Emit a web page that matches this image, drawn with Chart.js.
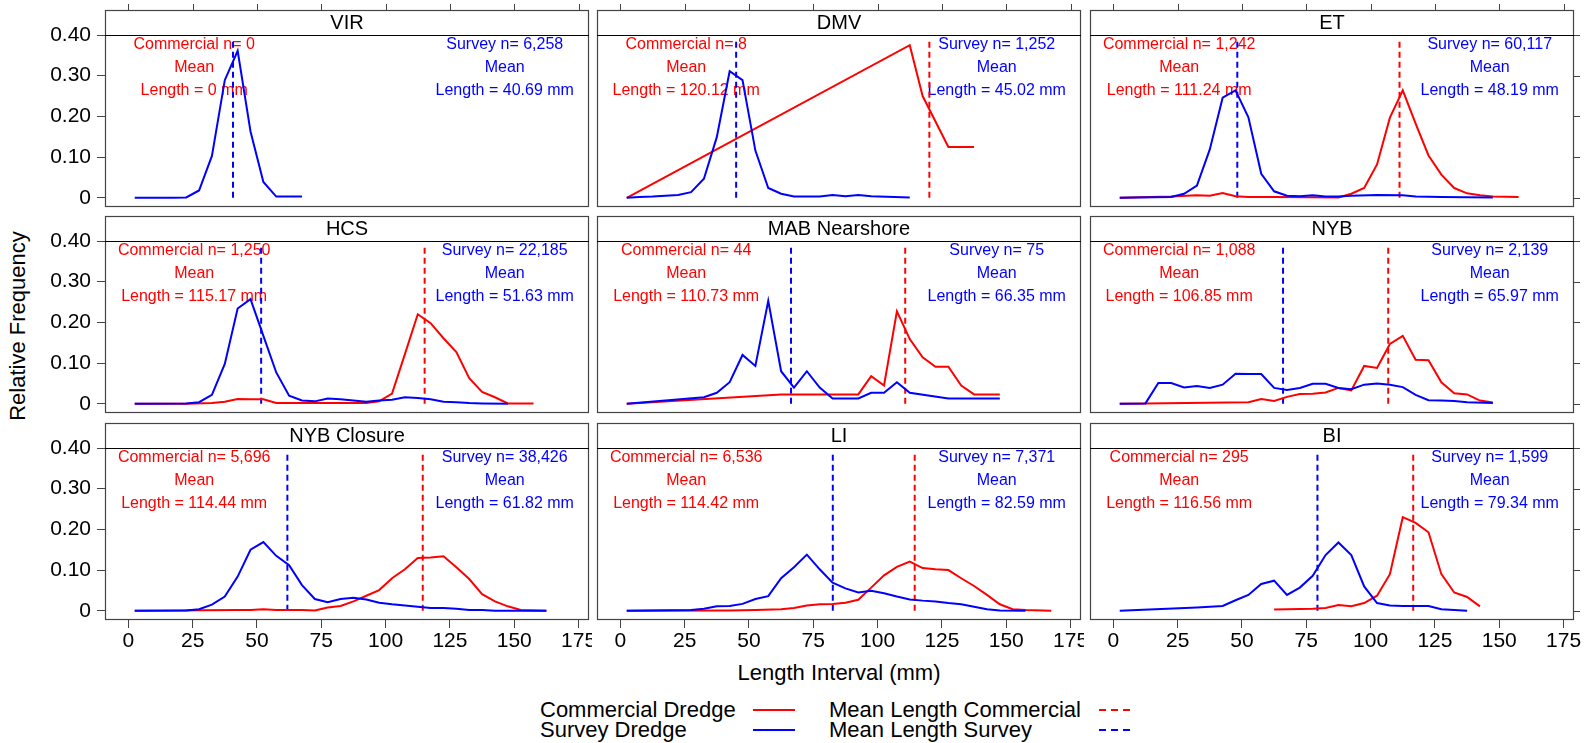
<!DOCTYPE html>
<html lang="en">
<head>
<meta charset="UTF-8" />
<title>Length Frequency by Region</title>
<script src="https://cdn.jsdelivr.net/npm/chart.js"></script>
<style>
  body {
    margin: 0;
    width: 1589px;
    height: 743px;
    position: relative;
    overflow: hidden;
    background: #fff;
    font-family: 'Liberation Sans', Arial, Helvetica, sans-serif;
    color: #000;
  }
  canvas { position: absolute; }
  .ytitle {
    position: absolute;
    left: 18px;
    top: 326px;
    transform: translate(-50%, -50%) rotate(-90deg);
    font-size: 22px;
    white-space: nowrap;
  }
  .xtitle {
    position: absolute;
    left: 839px;
    top: 673px;
    transform: translate(-50%, -50%);
    font-size: 22px;
    white-space: nowrap;
  }
  .leg {
    position: absolute;
    font-size: 22px;
    white-space: nowrap;
    transform: translateY(-50%);
  }
  .legsvg { position: absolute; }
</style>
</head>
<body>

<div class="ytitle">Relative Frequency</div>
<div class="xtitle">Length Interval (mm)</div>

<div class="leg" style="left:540px; top:710px;">Commercial Dredge</div>
<div class="leg" style="left:540px; top:730px;">Survey Dredge</div>
<div class="leg" style="left:829px; top:710px;">Mean Length Commercial</div>
<div class="leg" style="left:829px; top:730px;">Mean Length Survey</div>
<svg class="legsvg" style="left:750px; top:700px;" width="48" height="40">
  <line x1="3" y1="10" x2="45" y2="10" stroke="#ff0000" stroke-width="2"/>
  <line x1="3" y1="30" x2="45" y2="30" stroke="#0000ff" stroke-width="2"/>
</svg>
<svg class="legsvg" style="left:1096px; top:700px;" width="40" height="40">
  <line x1="3" y1="10" x2="34" y2="10" stroke="#ff0000" stroke-width="2" stroke-dasharray="7,5"/>
  <line x1="3" y1="30" x2="34" y2="30" stroke="#0000ff" stroke-width="2" stroke-dasharray="7,5"/>
</svg>

<script>
// panel names, in reading order
const regions = ['VIR', 'DMV', 'ET', 'HCS', 'MAB Nearshore', 'NYB', 'NYB Closure', 'LI', 'BI'];
const commercialN = ['0', '8', '1,242', '1,250', '44', '1,088', '5,696', '6,536', '295'];
const surveyN = ['6,258', '1,252', '60,117', '22,185', '75', '2,139', '38,426', '7,371', '1,599'];
const commercialMean = [0, 120.12, 111.24, 115.17, 110.73, 106.85, 114.44, 114.42, 116.56];
const surveyMean = [40.69, 45.02, 48.19, 51.63, 66.35, 65.97, 61.82, 82.59, 79.34];

const xTicks = [0, 25, 50, 75, 100, 125, 150, 175];
const yTicks = [0, 0.1, 0.2, 0.3, 0.4];
const yTickLabels = ['0', '0.10', '0.20', '0.30', '0.40'];

// relative frequency by length interval midpoint (mm): [length, freq]
const virCommercial = [];
const virSurvey = [[2.5,0],[7.5,0],[12.5,0],[17.5,0],[22.5,0.001],[27.5,0.018],[32.5,0.103],[37.5,0.289],[42.5,0.361],[47.5,0.163],[52.5,0.039],[57.5,0.003],[62.5,0.003],[67.5,0.003]];

const dmvCommercial = [[2.5,0],[112.5,0.375],[117.5,0.25],[127.5,0.125],[137.5,0.125]];
const dmvSurvey = [[2.5,0],[7.5,0.002],[12.5,0.003],[17.5,0.005],[22.5,0.007],[27.5,0.014],[32.5,0.047],[37.5,0.149],[42.5,0.311],[47.5,0.289],[52.5,0.116],[57.5,0.024],[62.5,0.01],[67.5,0.003],[72.5,0.003],[77.5,0.003],[82.5,0.007],[87.5,0.004],[92.5,0.007],[97.5,0.004],[112.5,0.001]];

const etCommercial = [[2.5,0],[22.5,0.003],[32.5,0.006],[37.5,0.005],[42.5,0.012],[47.5,0.004],[52.5,0.002],[62.5,0.002],[87.5,0.001],[92.5,0.01],[97.5,0.024],[102.5,0.082],[107.5,0.197],[112.5,0.264],[117.5,0.182],[122.5,0.104],[127.5,0.057],[132.5,0.024],[137.5,0.011],[142.5,0.006],[147.5,0.003],[157.5,0.002]];
const etSurvey = [[2.5,0],[22.5,0.002],[27.5,0.01],[32.5,0.03],[37.5,0.119],[42.5,0.246],[47.5,0.264],[52.5,0.198],[57.5,0.059],[62.5,0.016],[67.5,0.005],[72.5,0.004],[77.5,0.006],[82.5,0.003],[87.5,0.003],[92.5,0.005],[102.5,0.007],[112.5,0.006],[117.5,0.003],[127.5,0.002],[147.5,0.001]];

const hcsCommercial = [[2.5,0],[22.5,0],[32.5,0.002],[37.5,0.005],[42.5,0.012],[47.5,0.011],[52.5,0.011],[57.5,0.002],[62.5,0.002],[92.5,0.002],[97.5,0.006],[102.5,0.025],[107.5,0.122],[112.5,0.22],[117.5,0.198],[122.5,0.161],[127.5,0.127],[132.5,0.063],[137.5,0.029],[142.5,0.016],[147.5,0.001],[157.5,0.001]];
const hcsSurvey = [[2.5,0],[22.5,0.001],[27.5,0.004],[32.5,0.022],[37.5,0.098],[42.5,0.234],[47.5,0.257],[52.5,0.167],[57.5,0.077],[62.5,0.02],[67.5,0.008],[72.5,0.006],[77.5,0.013],[82.5,0.011],[87.5,0.008],[92.5,0.005],[97.5,0.008],[102.5,0.01],[107.5,0.016],[112.5,0.014],[117.5,0.011],[122.5,0.005],[127.5,0.004],[132.5,0.002],[137.5,0.001],[147.5,0]];

const mabCommercial = [[2.5,0],[62.5,0.023],[92.5,0.023],[97.5,0.068],[102.5,0.045],[107.5,0.227],[112.5,0.159],[117.5,0.114],[122.5,0.091],[127.5,0.091],[132.5,0.045],[137.5,0.023],[147.5,0.023]];
const mabSurvey = [[2.5,0],[32.5,0.016],[37.5,0.027],[42.5,0.053],[47.5,0.12],[52.5,0.093],[57.5,0.253],[62.5,0.08],[67.5,0.04],[72.5,0.08],[77.5,0.04],[82.5,0.013],[92.5,0.013],[97.5,0.027],[102.5,0.027],[107.5,0.053],[112.5,0.027],[127.5,0.013],[147.5,0.013]];

const nybCommercial = [[2.5,0],[12.5,0.001],[52.5,0.004],[57.5,0.012],[62.5,0.007],[67.5,0.017],[72.5,0.024],[77.5,0.025],[82.5,0.028],[87.5,0.039],[92.5,0.033],[97.5,0.093],[102.5,0.088],[107.5,0.147],[112.5,0.167],[117.5,0.108],[122.5,0.107],[127.5,0.053],[132.5,0.026],[137.5,0.023],[142.5,0.008],[147.5,0.003]];
const nybSurvey = [[2.5,0],[12.5,0.001],[17.5,0.051],[22.5,0.051],[27.5,0.04],[32.5,0.044],[37.5,0.039],[42.5,0.047],[47.5,0.074],[52.5,0.073],[57.5,0.073],[62.5,0.039],[67.5,0.034],[72.5,0.039],[77.5,0.049],[82.5,0.049],[87.5,0.039],[92.5,0.036],[97.5,0.047],[102.5,0.05],[107.5,0.047],[112.5,0.041],[117.5,0.022],[122.5,0.009],[127.5,0.008],[132.5,0.007],[137.5,0.004],[147.5,0.002]];

const nybcCommercial = [[2.5,0],[42.5,0.002],[47.5,0.002],[52.5,0.004],[57.5,0.002],[67.5,0.002],[72.5,0.001],[77.5,0.008],[82.5,0.012],[87.5,0.023],[92.5,0.037],[97.5,0.051],[102.5,0.08],[107.5,0.102],[112.5,0.13],[117.5,0.131],[122.5,0.134],[127.5,0.107],[132.5,0.078],[137.5,0.041],[142.5,0.023],[147.5,0.011],[152.5,0.002],[162.5,0]];
const nybcSurvey = [[2.5,0],[22.5,0.001],[27.5,0.004],[32.5,0.015],[37.5,0.035],[42.5,0.084],[47.5,0.15],[52.5,0.169],[57.5,0.135],[62.5,0.112],[67.5,0.063],[72.5,0.029],[77.5,0.021],[82.5,0.029],[87.5,0.032],[92.5,0.028],[97.5,0.02],[102.5,0.016],[107.5,0.013],[112.5,0.01],[117.5,0.007],[122.5,0.007],[127.5,0.005],[132.5,0.002],[137.5,0.002],[142.5,0],[162.5,0]];

const liCommercial = [[2.5,0],[42.5,0.001],[52.5,0.002],[62.5,0.004],[67.5,0.007],[72.5,0.013],[77.5,0.016],[82.5,0.017],[87.5,0.02],[92.5,0.027],[97.5,0.057],[102.5,0.087],[107.5,0.108],[112.5,0.121],[117.5,0.105],[122.5,0.102],[127.5,0.1],[132.5,0.08],[137.5,0.061],[142.5,0.039],[147.5,0.016],[152.5,0.004],[157.5,0.002],[167.5,0]];
const liSurvey = [[2.5,0],[27.5,0.002],[32.5,0.005],[37.5,0.011],[42.5,0.012],[47.5,0.017],[52.5,0.029],[57.5,0.036],[62.5,0.08],[67.5,0.107],[72.5,0.138],[77.5,0.102],[82.5,0.069],[87.5,0.055],[92.5,0.045],[97.5,0.049],[102.5,0.043],[107.5,0.035],[112.5,0.028],[117.5,0.025],[122.5,0.023],[127.5,0.019],[132.5,0.016],[137.5,0.01],[142.5,0.004],[147.5,0.001],[157.5,0]];

const biCommercial = [[62.5,0.003],[77.5,0.005],[82.5,0.007],[87.5,0.014],[92.5,0.011],[97.5,0.019],[102.5,0.037],[107.5,0.09],[112.5,0.23],[117.5,0.216],[122.5,0.193],[127.5,0.09],[132.5,0.045],[137.5,0.034],[142.5,0.011]];
const biSurvey = [[2.5,0],[32.5,0.008],[42.5,0.012],[47.5,0.026],[52.5,0.039],[57.5,0.066],[62.5,0.074],[67.5,0.039],[72.5,0.057],[77.5,0.086],[82.5,0.137],[87.5,0.168],[92.5,0.137],[97.5,0.06],[102.5,0.019],[107.5,0.013],[112.5,0.012],[117.5,0.012],[122.5,0.012],[127.5,0.004],[132.5,0.002],[137.5,0]];

const commercialSeries = [virCommercial, dmvCommercial, etCommercial, hcsCommercial, mabCommercial, nybCommercial, nybcCommercial, liCommercial, biCommercial];
const surveySeries = [virSurvey, dmvSurvey, etSurvey, hcsSurvey, mabSurvey, nybSurvey, nybcSurvey, liSurvey, biSurvey];

// ---- layout (px) ----
const FONT = "'Liberation Sans', Arial, Helvetica, sans-serif";
const colLeft = [105, 597, 1090];
const rowTop = [10, 216, 423];
const panelW = 484;
const stripH = 25;
const plotH = 172;
const RED = '#ff0000';
const BLUE = '#0000ff';
const FRAME = '#444444';

const toXY = pts => pts.map(p => ({ x: p[0], y: p[1] }));

// strip, frame, outer ticks and the text in each panel
const panelDecor = {
  id: 'panelDecor',
  beforeDatasetsDraw(chart, args, opts) {
    const { ctx, scales: { x, y } } = chart;
    ctx.save();
    ctx.font = '16px ' + FONT;
    ctx.textAlign = 'center';
    ctx.textBaseline = 'middle';
    const rows = [0.377, 0.32, 0.263];
    const red = ['Commercial n= ' + opts.cn, 'Mean', 'Length = ' + opts.cm + ' mm'];
    const blue = ['Survey n= ' + opts.sn, 'Mean', 'Length = ' + opts.sm + ' mm'];
    rows.forEach((v, i) => {
      ctx.fillStyle = RED;
      ctx.fillText(red[i], x.getPixelForValue(25.6), y.getPixelForValue(v));
      ctx.fillStyle = BLUE;
      ctx.fillText(blue[i], x.getPixelForValue(146.3), y.getPixelForValue(v));
    });
    ctx.restore();
  },
  afterDraw(chart, args, opts) {
    const { ctx, chartArea: a, scales: { x, y } } = chart;
    const top = a.top - stripH;
    ctx.save();
    ctx.fillStyle = '#fff';
    ctx.fillRect(a.left, top, a.right - a.left, stripH);
    ctx.strokeStyle = FRAME;
    ctx.lineWidth = 1.2;
    ctx.strokeRect(a.left + 0.5, top + 0.5, a.right - a.left - 1, a.bottom - top - 1);
    ctx.strokeStyle = '#000';
    ctx.lineWidth = 1;
    ctx.beginPath();
    ctx.moveTo(a.left, Math.round(a.top) + 0.5);
    ctx.lineTo(a.right, Math.round(a.top) + 0.5);
    ctx.stroke();
    ctx.fillStyle = '#000';
    ctx.font = '20px ' + FONT;
    ctx.textAlign = 'center';
    ctx.textBaseline = 'middle';
    ctx.fillText(opts.title, (a.left + a.right) / 2, top + stripH / 2 + 1);
    ctx.strokeStyle = FRAME;
    ctx.beginPath();
    if (opts.topTicks) {
      xTicks.forEach(v => {
        const px = Math.round(x.getPixelForValue(v)) + 0.5;
        ctx.moveTo(px, top - 6);
        ctx.lineTo(px, top);
      });
    }
    if (opts.rightTicks) {
      yTicks.forEach(v => {
        const py = Math.round(y.getPixelForValue(v)) + 0.5;
        ctx.moveTo(a.right, py);
        ctx.lineTo(a.right + 6, py);
      });
    }
    ctx.stroke();
    ctx.restore();
  }
};

function zeroPad(s) {
  s.paddingTop = 0; s.paddingBottom = 0; s.paddingLeft = 0; s.paddingRight = 0;
}

regions.forEach((name, i) => {
  const r = Math.floor(i / 3);
  const c = i % 3;
  const showX = r === 2;
  const showY = c === 0;
  const exL = showY ? 105 : 3;
  const exR = c === 2 ? 10 : 3;
  const exT = r === 0 ? 10 : 3;
  const exB = showX ? 45 : 3;

  const cv = document.createElement('canvas');
  cv.width = exL + panelW + exR;
  cv.height = exT + stripH + plotH + exB;
  cv.style.left = (colLeft[c] - exL) + 'px';
  cv.style.top = (rowTop[r] - exT) + 'px';
  document.body.appendChild(cv);

  const datasets = [
    { data: toXY(surveySeries[i]), borderColor: BLUE, borderWidth: 2 },
    { data: toXY(commercialSeries[i]), borderColor: RED, borderWidth: 2 },
    { data: [{ x: surveyMean[i], y: 0 }, { x: surveyMean[i], y: 0.39 }], borderColor: BLUE, borderWidth: 2, borderDash: [6, 4] }
  ];
  if (commercialMean[i] > 0) {
    datasets.push({ data: [{ x: commercialMean[i], y: 0 }, { x: commercialMean[i], y: 0.39 }], borderColor: RED, borderWidth: 2, borderDash: [6, 4] });
  }

  new Chart(cv.getContext('2d'), {
    type: 'line',
    data: { datasets },
    options: {
      responsive: false,
      animation: false,
      devicePixelRatio: 1,
      layout: { padding: { left: showY ? 0 : exL, right: exR, top: exT + stripH, bottom: showX ? 0 : exB } },
      elements: { point: { radius: 0 }, line: { tension: 0, fill: false } },
      plugins: {
        legend: { display: false },
        tooltip: { enabled: false },
        panelDecor: {
          title: name,
          cn: commercialN[i], sn: surveyN[i],
          cm: String(commercialMean[i]), sm: String(surveyMean[i]),
          topTicks: r === 0,
          rightTicks: c === 2
        }
      },
      scales: {
        x: {
          type: 'linear',
          position: 'bottom',
          display: showX,
          min: -9.056,
          max: 179.05,
          afterBuildTicks: s => { s.ticks = xTicks.map(v => ({ value: v })); },
          afterFit: s => { if (showX) { s.height = 45; zeroPad(s); } },
          ticks: { font: { family: FONT, size: 21 }, color: '#000', padding: 1, maxRotation: 0, autoSkip: false },
          grid: { drawOnChartArea: false, tickLength: 8, color: FRAME },
          border: { display: false }
        },
        y: {
          type: 'linear',
          position: 'left',
          display: showY,
          min: -0.0226,
          max: 0.40,
          afterBuildTicks: s => { s.ticks = yTicks.map(v => ({ value: v })); },
          afterFit: s => { if (showY) { s.width = 105; zeroPad(s); } },
          ticks: {
            font: { family: FONT, size: 21 }, color: '#000', padding: 6,
            callback: v => yTickLabels[yTicks.indexOf(v)]
          },
          grid: { drawOnChartArea: false, tickLength: 8, color: FRAME },
          border: { display: false }
        }
      }
    },
    plugins: [panelDecor]
  });
});
</script>
</body>
</html>
